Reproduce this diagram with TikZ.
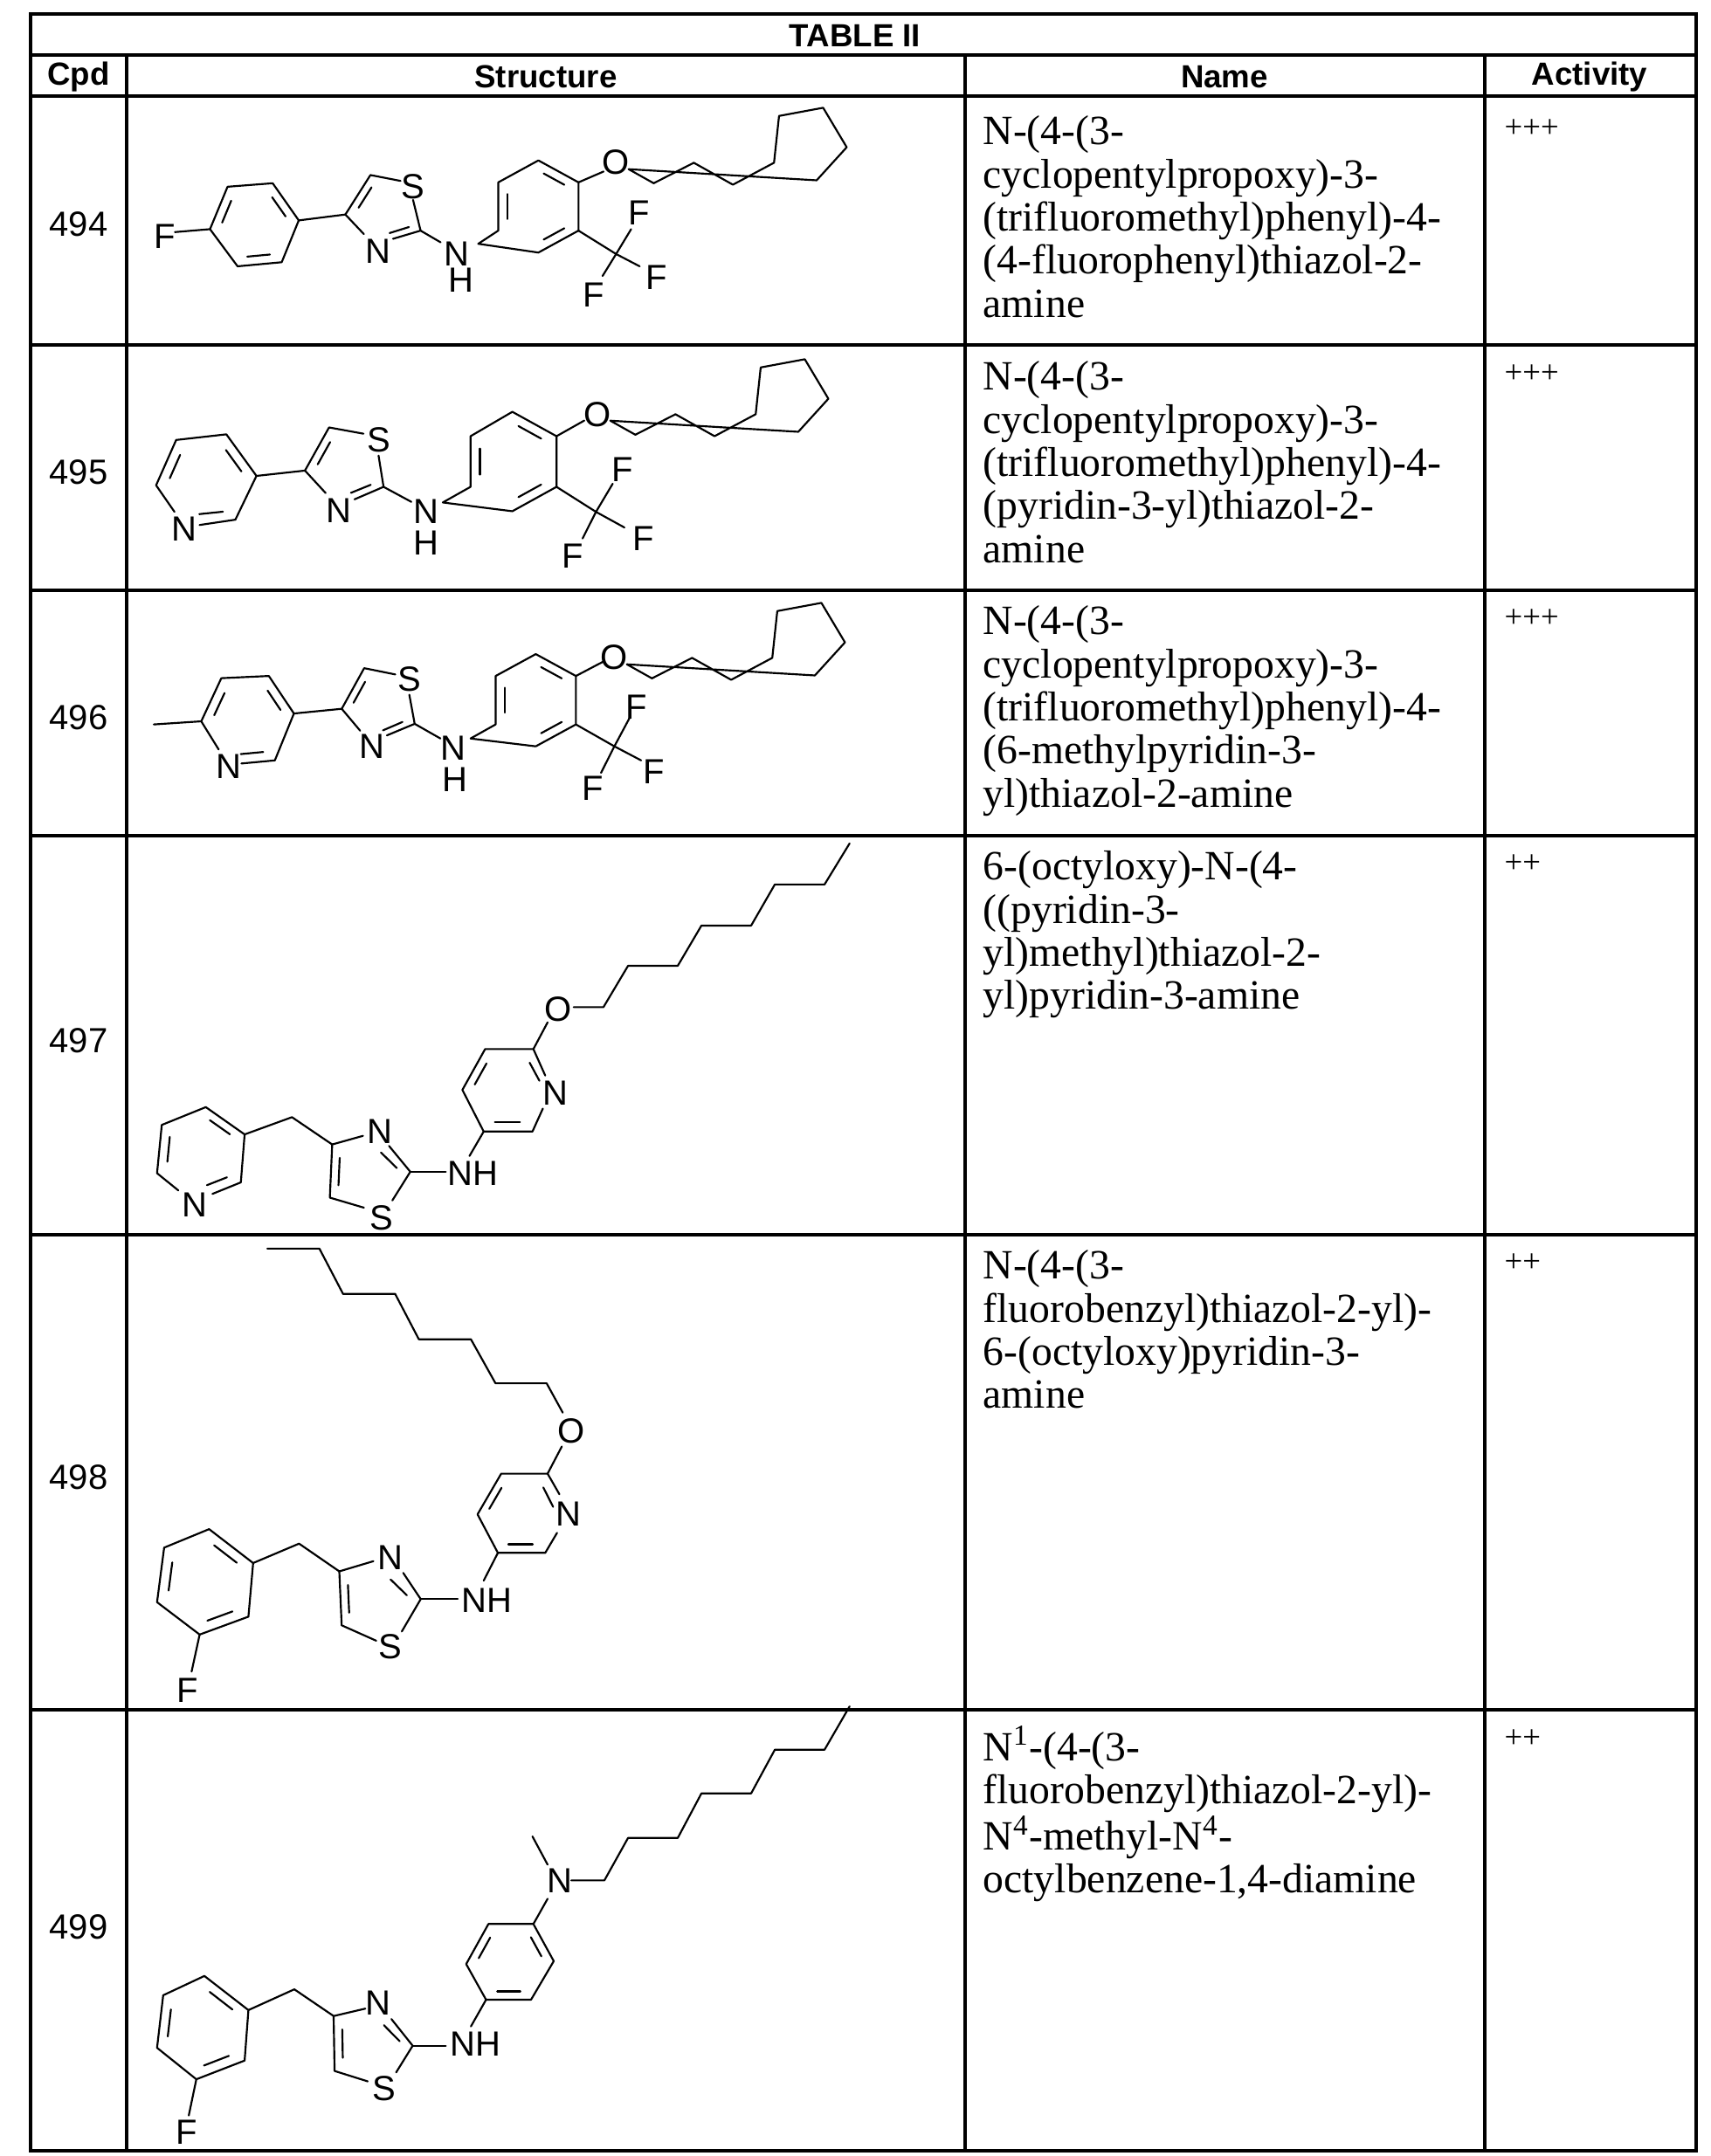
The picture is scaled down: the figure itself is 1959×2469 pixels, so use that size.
\documentclass[tikz,border=0pt]{standalone}
\usepackage{fontspec}
\setmainfont{Liberation Serif}
\setsansfont{Liberation Sans}
\newfontfamily\atomf{Liberation Sans}
\usetikzlibrary{calc}
\tikzset{bond/.style={line width=0.65pt,line join=round,line cap=round},
atom/.style={font=\atomf\fontsize{12}{12}\selectfont,inner sep=0pt},
tline/.style={line width=1pt},
hdr/.style={font=\sffamily\bfseries\fontsize{11}{12}\selectfont,inner sep=0pt},
nm/.style={font=\fontsize{14.3}{14.8}\selectfont,inner sep=0pt,align=left,anchor=north west},
act/.style={font=\fontsize{11}{12}\selectfont,inner sep=0pt,anchor=north west},
cpd/.style={font=\sffamily\fontsize{12}{12}\selectfont,inner sep=0pt}}
\newcommand\inr[3]{\draw[bond] ($($#1!.17!#2$)!.22!#3$) -- ($($#2!.17!#1$)!.22!#3$);}
\newcommand\cpchain{%
\draw[bond] (1010,250)--(1060,298)--(1140,228)--(1218,303)--(1300,228)--(1310,68)--(1398,40)--(1445,175)--(1385,288)--cycle;}
\begin{document}
\begin{tikzpicture}[x=0.3pt,y=-0.3pt]
\useasboundingbox (0,0) rectangle (1959,2469);
% table
\draw[tline] (35,16) rectangle (1942,2463);
\foreach \y in {63,110,395,676,957,1414,1958} \draw[tline] (35,\y)--(1942,\y);
\foreach \x in {145,1105,1700} \draw[tline] (\x,63)--(\x,2463);
\node[hdr] (title) at (979,41) {TABLE II};
\node[hdr] (h1) at (90,88) {Cpd};
\node[hdr] (h2) at (625,88) {Structure};
\node[hdr] (h3) at (1402,88) {Name};
\node[hdr] (h4) at (1820,88) {Activity};
% cpd numbers
\node[cpd] (c494) at (90,257) {494};
\node[cpd] (c495) at (90,541) {495};
\node[cpd] (c496) at (90,822) {496};
\node[cpd] (c497) at (90,1192) {497};
\node[cpd] (c498) at (90,1692) {498};
\node[cpd] (c499) at (90,2207) {499};
% names
\node[nm] (n494) at (1125,132) {N-(4-(3-\\cyclopentylpropoxy)-3-\\(trifluoromethyl)phenyl)-4-\\(4-fluorophenyl)thiazol-2-\\amine};
\node[nm] (n495) at (1125,413) {N-(4-(3-\\cyclopentylpropoxy)-3-\\(trifluoromethyl)phenyl)-4-\\(pyridin-3-yl)thiazol-2-\\amine};
\node[nm] (n496) at (1125,693) {N-(4-(3-\\cyclopentylpropoxy)-3-\\(trifluoromethyl)phenyl)-4-\\(6-methylpyridin-3-\\yl)thiazol-2-amine};
\node[nm] (n497) at (1125,974) {6-(octyloxy)-N-(4-\\((pyridin-3-\\yl)methyl)thiazol-2-\\yl)pyridin-3-amine};
\node[nm] (n498) at (1125,1431) {N-(4-(3-\\fluorobenzyl)thiazol-2-yl)-\\6-(octyloxy)pyridin-3-\\amine};
\node[nm] (n499) at (1125,1976) {N\textsuperscript{1}-(4-(3-\\fluorobenzyl)thiazol-2-yl)-\\N\textsuperscript{4}-methyl-N\textsuperscript{4}-\\octylbenzene-1,4-diamine};
\node[act] (a494) at (1722,136) {+++};
\node[act] (a495) at (1722,417) {+++};
\node[act] (a496) at (1722,697) {+++};
\node[act] (a497) at (1722,978) {++};
\node[act] (a498) at (1722,1435) {++};
\node[act] (a499) at (1722,1980) {++};
% ===== 494 =====
\begin{scope}[shift={(140,110)},xscale=.574,yscale=.335]
\node[atom] at (85,480) {F};
\node[atom] at (580,310) {S};
\node[atom] at (510,530) {N};
\node[atom] at (668,540) {N};
\node[atom] at (675,630) {H};
\node[atom] at (985,225) {O};
\node[atom] at (1030,400) {F};
\node[atom] at (1065,620) {F};
\node[atom] at (940,680) {F};
\draw[bond] (105,465)--(175,455);
\draw[bond] (175,455)--(210,310)--(300,298)--(352,425)--(318,568)--(230,582)--cycle;
\inr{(175,455)}{(210,310)}{(264,440)}\inr{(300,298)}{(352,425)}{(264,440)}\inr{(318,568)}{(230,582)}{(264,440)}
\draw[bond] (352,425)--(445,405)--(495,270)--(555,290);
\draw[bond] (580,355)--(595,460)--(540,488);
\draw[bond] (482,472)--(445,405);
\inr{(445,405)}{(495,270)}{(535,380)}\inr{(595,460)}{(520,500)}{(535,380)}
\draw[bond] (595,460)--(635,500);
\draw[bond] (710,505)--(750,460)--(750,295)--(830,220)--(910,295)--(910,460)--(830,535)--cycle;
\inr{(750,460)}{(750,295)}{(830,378)}\inr{(830,220)}{(910,295)}{(830,378)}\inr{(910,460)}{(830,535)}{(830,378)}
\draw[bond] (910,295)--(960,258);
\draw[bond] (910,460)--(985,540)--(1015,455);
\draw[bond] (985,540)--(1032,582);
\draw[bond] (985,540)--(958,615);
\cpchain
\end{scope}
% ===== 495 =====
\begin{scope}[shift={(119,398)},xscale=.574,yscale=.335]\cpchain\end{scope}
\begin{scope}[shift={(150,400)},xscale=.383,yscale=.358]
\node[atom] at (160,575) {N};
\node[atom] at (742,290) {S};
\node[atom] at (620,515) {N};
\node[atom] at (882,520) {N};
\node[atom] at (882,620) {H};
\node[atom] at (1395,210) {O};
\node[atom] at (1468,385) {F};
\node[atom] at (1532,605) {F};
\node[atom] at (1320,660) {F};
\draw[bond] (130,520)--(75,435)--(135,290)--(285,272)--(375,405)--(312,545)--(205,562);
\inr{(75,435)}{(135,290)}{(225,420)}\inr{(285,272)}{(375,405)}{(225,420)}\inr{(312,545)}{(175,560)}{(225,420)}
\draw[bond] (375,405)--(520,388)--(592,250)--(695,270);
\draw[bond] (740,340)--(755,440)--(668,480);
\draw[bond] (582,460)--(520,388);
\inr{(520,388)}{(592,250)}{(650,380)}\inr{(755,440)}{(640,490)}{(650,380)}
\draw[bond] (755,440)--(838,488);
\draw[bond] (932,490)--(1015,440)--(1015,278)--(1140,200)--(1272,278)--(1272,440)--(1140,518)--cycle;
\inr{(1015,440)}{(1015,278)}{(1143,360)}\inr{(1140,200)}{(1272,278)}{(1143,360)}\inr{(1272,440)}{(1140,518)}{(1143,360)}
\draw[bond] (1272,278)--(1355,228);
\draw[bond] (1272,440)--(1390,520)--(1440,430);
\draw[bond] (1390,520)--(1475,570);
\draw[bond] (1390,520)--(1350,605);
% ===== 496 =====
\node[atom] at (292,1335) {N};
\node[atom] at (832,1055) {S};
\node[atom] at (720,1270) {N};
\node[atom] at (962,1275) {N};
\node[atom] at (968,1375) {H};
\node[atom] at (1445,985) {O};
\node[atom] at (1512,1145) {F};
\node[atom] at (1562,1350) {F};
\node[atom] at (1380,1405) {F};
\draw[bond] (68,1200)--(210,1190);
\draw[bond] (262,1280)--(210,1190)--(270,1052)--(412,1045)--(487,1165)--(430,1315)--(330,1325);
\inr{(210,1190)}{(270,1052)}{(350,1185)}\inr{(412,1045)}{(487,1165)}{(350,1185)}\inr{(430,1315)}{(300,1328)}{(350,1185)}
\draw[bond] (487,1165)--(630,1150)--(697,1020)--(790,1040);
\draw[bond] (832,1105)--(848,1198)--(765,1235);
\draw[bond] (685,1220)--(630,1150);
\inr{(630,1150)}{(697,1020)}{(750,1140)}\inr{(848,1198)}{(735,1250)}{(750,1140)}
\draw[bond] (848,1198)--(925,1245);
\draw[bond] (1015,1245)--(1090,1200)--(1090,1045)--(1210,975)--(1330,1045)--(1330,1200)--(1210,1270)--cycle;
\inr{(1090,1200)}{(1090,1045)}{(1210,1122)}\inr{(1210,975)}{(1330,1045)}{(1210,1122)}\inr{(1330,1200)}{(1210,1270)}{(1210,1122)}
\draw[bond] (1330,1045)--(1410,1000);
\draw[bond] (1330,1200)--(1445,1270)--(1490,1180);
\draw[bond] (1445,1270)--(1525,1315);
\draw[bond] (1445,1270)--(1405,1355);
\end{scope}
\begin{scope}[shift={(138,677)},xscale=.574,yscale=.335]\cpchain\end{scope}
% ===== 497 =====
\begin{scope}[shift={(150,952)},xscale=.542,yscale=.329]
\node[atom] at (135,1300) {N};
\node[atom] at (525,1045) {N};
\node[atom] at (530,1345) {S};
\node[atom] at (722,1190) {NH};
\node[atom] at (897,910) {N};
\node[atom] at (902,620) {O};
\draw[bond] (100,1250)--(55,1190)--(65,1022)--(158,960)--(240,1055)--(232,1222)--(172,1262);
\inr{(55,1190)}{(65,1022)}{(148,1110)}\inr{(158,960)}{(240,1055)}{(148,1110)}\inr{(232,1222)}{(150,1275)}{(148,1110)}
\draw[bond] (240,1055)--(340,995)--(425,1090)--(490,1060);
\draw[bond] (545,1095)--(590,1185)--(552,1285);
\draw[bond] (492,1310)--(420,1275)--(425,1090);
\inr{(420,1275)}{(425,1090)}{(500,1190)}\inr{(525,1080)}{(590,1185)}{(500,1190)}
\draw[bond] (590,1185)--(665,1185);
\draw[bond] (715,1130)--(745,1045)--(700,900)--(748,758)--(850,758)--(875,850);
\draw[bond] (870,965)--(848,1045)--(745,1045);
\inr{(700,900)}{(748,758)}{(790,900)}\inr{(848,1045)}{(745,1045)}{(790,900)}\inr{(850,758)}{(890,880)}{(790,900)}
\draw[bond] (850,758)--(880,665);
\draw[bond] (935,612)--(998,612)--(1050,468)--(1155,468)--(1205,328)--(1310,328)--(1360,185)--(1465,185)--(1518,42);
\end{scope}
% ===== 498 =====
\begin{scope}[shift={(150,1420)},xscale=.542,yscale=.353]
\node[atom] at (120,1460) {F};
\node[atom] at (548,1030) {N};
\node[atom] at (548,1320) {S};
\node[atom] at (752,1170) {NH};
\node[atom] at (925,890) {N};
\node[atom] at (930,620) {O};
\draw[bond] (288,28)--(398,28)--(448,175)--(558,175)--(608,322)--(718,322)--(770,465)--(878,465)--(912,560);
\draw[bond] (910,670)--(880,758);
\draw[bond] (905,825)--(880,758)--(782,758)--(732,890)--(775,1015)--(875,1015)--(900,950);
\inr{(782,758)}{(732,890)}{(815,888)}\inr{(775,1015)}{(875,1015)}{(815,888)}\inr{(880,758)}{(920,880)}{(815,888)}
\draw[bond] (775,1015)--(745,1105);
\draw[bond] (612,1165)--(690,1165);
\draw[bond] (258,1048)--(355,985)--(440,1075)--(512,1042);
\draw[bond] (575,1080)--(612,1165)--(572,1270);
\draw[bond] (518,1300)--(445,1250)--(440,1075);
\inr{(445,1250)}{(440,1075)}{(520,1170)}\inr{(545,1065)}{(612,1165)}{(520,1170)}
\draw[bond] (258,1048)--(165,938)--(70,998)--(55,1175)--(145,1280)--(248,1222)--cycle;
\inr{(70,998)}{(55,1175)}{(157,1110)}\inr{(165,938)}{(258,1048)}{(157,1110)}\inr{(145,1280)}{(248,1222)}{(157,1110)}
\draw[bond] (145,1280)--(128,1400);
\end{scope}
% ===== 499 =====
\begin{scope}[shift={(150,1950)},xscale=.542,yscale=.34]
\node[atom] at (118,1445) {F};
\node[atom] at (522,1010) {N};
\node[atom] at (535,1300) {S};
\node[atom] at (727,1150) {NH};
\node[atom] at (905,600) {N};
\draw[bond] (880,545)--(848,450);
\draw[bond] (930,598)--(1000,598)--(1050,455)--(1155,455)--(1205,305)--(1310,305)--(1360,158)--(1465,158)--(1518,12);
\draw[bond] (880,660)--(850,745);
\draw[bond] (850,745)--(755,745)--(708,880)--(750,1000)--(845,1000)--(893,870)--cycle;
\inr{(755,745)}{(708,880)}{(800,872)}\inr{(750,1000)}{(845,1000)}{(800,872)}\inr{(850,745)}{(893,870)}{(800,872)}
\draw[bond] (750,1000)--(718,1090);
\draw[bond] (595,1155)--(665,1155);
\draw[bond] (248,1035)--(345,965)--(428,1055)--(495,1030);
\draw[bond] (550,1065)--(595,1155)--(560,1245);
\draw[bond] (500,1275)--(430,1240)--(428,1055);
\inr{(430,1240)}{(428,1055)}{(510,1150)}\inr{(530,1050)}{(595,1155)}{(510,1150)}
\draw[bond] (248,1035)--(155,920)--(68,985)--(55,1162)--(138,1268)--(240,1205)--cycle;
\inr{(68,985)}{(55,1162)}{(150,1095)}\inr{(155,920)}{(248,1035)}{(150,1095)}\inr{(138,1268)}{(240,1205)}{(150,1095)}
\draw[bond] (138,1268)--(122,1390);
\end{scope}
\end{tikzpicture}
\end{document}
